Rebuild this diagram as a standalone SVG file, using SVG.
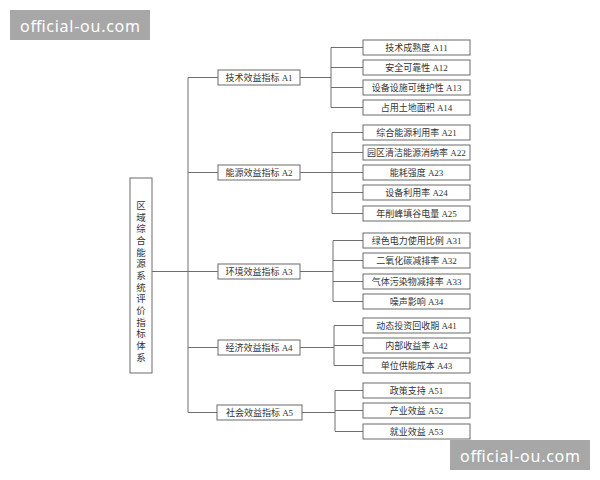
<svg xmlns="http://www.w3.org/2000/svg" width="600" height="480" viewBox="0 0 600 480">
<style>
.bx{fill:#fff;stroke:#6a6a6a;stroke-width:1}
.t{font-family:"Liberation Serif","Noto Sans CJK SC",serif;font-size:9px;fill:#333;text-anchor:middle;dominant-baseline:central}
.cn{fill:none;stroke:#6e6e6e;stroke-width:1}
.wm{fill:#a7a7a7}
.wt{font-family:"Noto Sans","DejaVu Sans",sans-serif;font-size:16px;fill:#fff}
</style>
<rect width="600" height="480" fill="#fff"/>
<g id="connectors" class="cn">
<path d="M152 271.5H188M188 77.5V412.5M188 77.5H218M188 172.5H218M188 271.5H218M188 347.5H218M188 412.5H217"/>
<path d="M300 77.5H331M331 47.5V107.5M331 47.5H363M331 67.5H363M331 87.5H363M331 107.5H363"/>
<path d="M300 172.5H332M332 132.5V213.5M332 132.5H363M332 152.5H363M332 172.5H363M332 192.5H363M332 213.5H363"/>
<path d="M300 271.5H333M333 240.5V301.5M333 240.5H363M333 260.5H363M333 281.5H363M333 301.5H363"/>
<path d="M300 347.5H334M334 325.5V365.5M334 325.5H363M334 345.5H363M334 365.5H363"/>
<path d="M302 412.5H335M335 390.5V431.5M335 390.5H363M335 410.5H363M335 431.5H363"/>
</g>
<g id="root"><rect class="bx" x="130" y="178" width="22" height="195"/>
<text class="t" x="141" y="206" style="font-size:9.5px"><tspan x="141" dy="0">区</tspan><tspan x="141" dy="11.67">域</tspan><tspan x="141" dy="11.67">综</tspan><tspan x="141" dy="11.67">合</tspan><tspan x="141" dy="11.67">能</tspan><tspan x="141" dy="11.67">源</tspan><tspan x="141" dy="11.67">系</tspan><tspan x="141" dy="11.67">统</tspan><tspan x="141" dy="11.67">评</tspan><tspan x="141" dy="11.67">价</tspan><tspan x="141" dy="11.67">指</tspan><tspan x="141" dy="11.67">标</tspan><tspan x="141" dy="11.67">体</tspan><tspan x="141" dy="11.67">系</tspan></text></g>
<g id="A1"><rect class="bx" x="218" y="70" width="82" height="15"/><text class="t" x="259" y="77.5">技术效益指标 A1</text></g>
<g id="A2"><rect class="bx" x="218" y="165" width="82" height="15"/><text class="t" x="259" y="172.5">能源效益指标 A2</text></g>
<g id="A3"><rect class="bx" x="218" y="264" width="82" height="15"/><text class="t" x="259" y="271.5">环境效益指标 A3</text></g>
<g id="A4"><rect class="bx" x="218" y="340" width="82" height="15"/><text class="t" x="259" y="347.5">经济效益指标 A4</text></g>
<g id="A5"><rect class="bx" x="217" y="405" width="85" height="15"/><text class="t" x="259.5" y="412.5">社会效益指标 A5</text></g>
<g id="A11"><rect class="bx" x="363" y="40" width="107" height="15"/><text class="t" x="416.5" y="47.5">技术成熟度 A11</text></g>
<g id="A12"><rect class="bx" x="363" y="60" width="107" height="15"/><text class="t" x="416.5" y="67.5">安全可靠性 A12</text></g>
<g id="A13"><rect class="bx" x="363" y="80" width="107" height="15"/><text class="t" x="416.5" y="87.5">设备设施可维护性 A13</text></g>
<g id="A14"><rect class="bx" x="363" y="100" width="107" height="15"/><text class="t" x="416.5" y="107.5">占用土地面积 A14</text></g>
<g id="A21"><rect class="bx" x="363" y="125" width="107" height="15"/><text class="t" x="416.5" y="132.5">综合能源利用率 A21</text></g>
<g id="A22"><rect class="bx" x="363" y="145" width="107" height="15"/><text class="t" x="416.5" y="152.5">园区清洁能源消纳率 A22</text></g>
<g id="A23"><rect class="bx" x="363" y="165" width="107" height="15"/><text class="t" x="416.5" y="172.5">能耗强度 A23</text></g>
<g id="A24"><rect class="bx" x="363" y="185" width="107" height="15"/><text class="t" x="416.5" y="192.5">设备利用率 A24</text></g>
<g id="A25"><rect class="bx" x="363" y="206" width="107" height="15"/><text class="t" x="416.5" y="213.5">年削峰填谷电量 A25</text></g>
<g id="A31"><rect class="bx" x="363" y="233" width="107" height="15"/><text class="t" x="416.5" y="240.5">绿色电力使用比例 A31</text></g>
<g id="A32"><rect class="bx" x="363" y="253" width="107" height="15"/><text class="t" x="416.5" y="260.5">二氧化碳减排率 A32</text></g>
<g id="A33"><rect class="bx" x="363" y="274" width="107" height="15"/><text class="t" x="416.5" y="281.5">气体污染物减排率 A33</text></g>
<g id="A34"><rect class="bx" x="363" y="294" width="107" height="15"/><text class="t" x="416.5" y="301.5">噪声影响 A34</text></g>
<g id="A41"><rect class="bx" x="363" y="318" width="107" height="15"/><text class="t" x="416.5" y="325.5">动态投资回收期 A41</text></g>
<g id="A42"><rect class="bx" x="363" y="338" width="107" height="15"/><text class="t" x="416.5" y="345.5">内部收益率 A42</text></g>
<g id="A43"><rect class="bx" x="363" y="358" width="107" height="15"/><text class="t" x="416.5" y="365.5">单位供能成本 A43</text></g>
<g id="A51"><rect class="bx" x="363" y="383" width="107" height="15"/><text class="t" x="416.5" y="390.5">政策支持 A51</text></g>
<g id="A52"><rect class="bx" x="363" y="403" width="107" height="15"/><text class="t" x="416.5" y="410.5">产业效益 A52</text></g>
<g id="A53"><rect class="bx" x="363" y="424" width="107" height="15"/><text class="t" x="416.5" y="431.5">就业效益 A53</text></g>
<g id="watermark1"><rect class="wm" x="10" y="10" width="140" height="30"/><text class="wt" x="20" y="32" textLength="120" lengthAdjust="spacing">official-ou.com</text></g>
<g id="watermark2"><rect class="wm" x="450" y="440" width="140" height="30"/><text class="wt" x="460" y="462" textLength="120" lengthAdjust="spacing">official-ou.com</text></g>
</svg>
